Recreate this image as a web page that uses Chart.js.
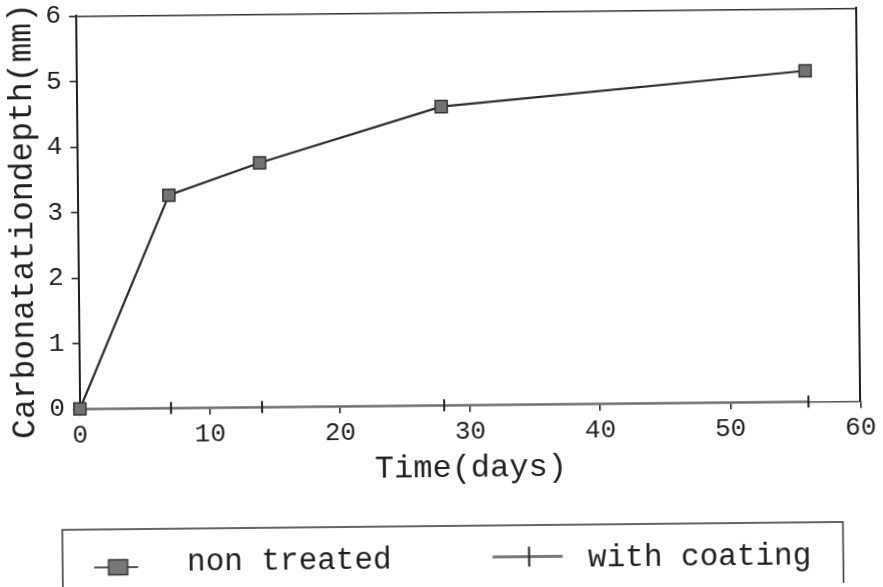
<!DOCTYPE html>
<html><head><meta charset="utf-8">
<script src="https://cdn.jsdelivr.net/npm/chart.js@4.4.1/dist/chart.umd.min.js"></script>
<style>
html,body{margin:0;padding:0;background:#fff;overflow:hidden;width:883px;height:587px}
#c{display:block;transform:rotate(-0.58deg);transform-origin:50% 50%}
</style></head><body>
<canvas id="c" width="883" height="587"></canvas>
<script>
// ---- data ----
const days = [0, 7, 14, 28, 56];
const nonTreated = [0, 3.25, 3.73, 4.56, 5.05];
const withCoating = [0, 0, 0, 0, 0];
const seriesNames = ['non treated', 'with coating'];
const xTickValues = [0, 10, 20, 30, 40, 50, 60];
const yTickValues = [0, 1, 2, 3, 4, 5, 6];
const xTitle = 'Time(days)';
const yTitle = 'Carbonatationdepth(mm)';

// ---- style ----
const FONT = "'Liberation Mono', 'DejaVu Sans Mono', monospace";
const INK = '#1e1e1e';

function legendMark(kind, dx, dy) {
  const w = 200, h = 50;
  const c = document.createElement('canvas');
  c.width = w; c.height = h;
  const g = c.getContext('2d');
  const cx = w / 2 + dx, cy = h / 2 + dy;
  if (kind === 'square') {
    g.strokeStyle = '#555'; g.lineWidth = 2;
    g.beginPath(); g.moveTo(cx - 24, cy); g.lineTo(cx + 20, cy); g.stroke();
    g.fillStyle = '#787878'; g.fillRect(cx - 9.5, cy - 7.5, 19, 15);
    g.strokeStyle = '#333'; g.lineWidth = 1.5; g.strokeRect(cx - 9.5, cy - 7.5, 19, 15);
  } else {
    g.strokeStyle = '#7a7a7a'; g.lineWidth = 3;
    g.beginPath(); g.moveTo(cx - 35, cy); g.lineTo(cx + 35, cy); g.stroke();
    g.strokeStyle = '#222'; g.lineWidth = 2;
    g.beginPath(); g.moveTo(cx + 1.5, cy - 10); g.lineTo(cx + 1.5, cy + 10); g.stroke();
  }
  return c;
}
const legendMarks = [legendMark('square', 22, 4), legendMark('cross', 30.5, -2.5)];

const legendFrame = {
  id: 'legendFrame',
  afterDraw(chart) {
    const lg = chart.legend;
    if (!lg || !lg.legendHitBoxes || !lg.legendHitBoxes.length) return;
    const hb = lg.legendHitBoxes;
    const a = hb[0], b = hb[hb.length - 1];
    const cy = a.top + a.height / 2;
    const left = a.left + 42, right = b.left + b.width + 32;
    const ctx = chart.ctx;
    ctx.save();
    ctx.strokeStyle = '#333';
    ctx.lineWidth = 1.5;
    ctx.strokeRect(left, cy - 34, right - left, 62);
    ctx.restore();
  }
};

// y-axis title, placed slightly below the axis centre as in the original figure
const yTitlePlugin = {
  id: 'yTitlePlugin',
  afterDraw(chart) {
    const s = chart.scales.y;
    const t = s.options.title;
    const ctx = chart.ctx;
    ctx.save();
    ctx.translate(24, (s.top + s.bottom) / 2 + 8);
    ctx.rotate(-Math.PI / 2);
    ctx.font = `${t.font.size}px ${FONT}`;
    ctx.fillStyle = INK;
    ctx.textAlign = 'center';
    ctx.textBaseline = 'middle';
    ctx.fillText(t.text, 0, 0);
    ctx.restore();
  }
};

const gridOpts = { drawOnChartArea: false, drawTicks: true, tickLength: 7, color: INK, lineWidth: 1.5 };

new Chart(document.getElementById('c'), {
  type: 'line',
  data: {
    datasets: [
      {
        label: seriesNames[0],
        data: days.map((d, i) => ({ x: d, y: nonTreated[i] })),
        borderColor: '#2a2a2a', borderWidth: 2.2, tension: 0,
        pointStyle: 'rect', pointRadius: 8.5,
        pointBackgroundColor: '#737373', pointBorderColor: '#333', pointBorderWidth: 1.5,
        clip: false
      },
      {
        label: seriesNames[1],
        data: days.map((d, i) => ({ x: d, y: withCoating[i] })),
        borderColor: '#6a6a6a', borderWidth: 2, tension: 0,
        pointStyle: 'line', pointRotation: 90, pointRadius: 6,
        pointBorderColor: '#222', pointBorderWidth: 2,
        clip: false
      }
    ]
  },
  options: {
    responsive: false,
    animation: false,
    devicePixelRatio: 1,
    layout: { padding: { left: -12.1, right: 19.1, top: 12.3, bottom: 1.5 } },
    scales: {
      x: {
        type: 'linear', position: 'bottom', min: 0, max: 60,
        afterBuildTicks: s => { s.ticks = xTickValues.map(v => ({ value: v })); },
        afterFit: s => { s.height = 109.2; },
        grid: gridOpts,
        border: { display: true, color: '#555', width: 1.5 },
        ticks: { font: { family: FONT, size: 26, lineHeight: 0.9 }, color: INK, padding: 8, maxRotation: 0, autoSkip: false },
        title: { display: true, text: xTitle, font: { family: FONT, size: 32 }, color: INK, padding: { top: 0, bottom: 27 } }
      },
      y: {
        type: 'linear', position: 'left', min: 0, max: 6,
        afterBuildTicks: s => { s.ticks = yTickValues.map(v => ({ value: v })); },
        afterFit: s => { s.width = 90.9; s.paddingTop = 0; s.paddingBottom = 0; },
        grid: gridOpts,
        border: { display: true, color: INK, width: 2 },
        ticks: { font: { family: FONT, size: 26, lineHeight: 0.9 }, color: INK, padding: 8, autoSkip: false },
        title: { display: false, text: yTitle, font: { family: FONT, size: 33 }, color: INK }
      },
      x2: {
        type: 'linear', position: 'top', min: 0, max: 60,
        ticks: { display: false }, grid: { display: false, drawTicks: false, tickLength: 0 },
        afterFit: s => { s.height = 0; },
        border: { display: true, color: '#333', width: 1.5 }
      },
      y2: {
        type: 'linear', position: 'right', min: 0, max: 6,
        ticks: { display: false }, grid: { display: false, drawTicks: false, tickLength: 0 },
        afterFit: s => { s.width = 0; },
        border: { display: true, color: INK, width: 2 }
      }
    },
    plugins: {
      tooltip: { enabled: false },
      legend: {
        position: 'bottom', align: 'start',
        labels: {
          usePointStyle: true, pointStyleWidth: 150.9, padding: 30,
          color: INK, font: { family: FONT, size: 31 },
          generateLabels: chart => chart.data.datasets.map((ds, i) => ({
            text: ds.label, pointStyle: legendMarks[i], datasetIndex: i, hidden: false,
            fontColor: INK, lineWidth: 0, strokeStyle: 'rgba(0,0,0,0)', fillStyle: 'rgba(0,0,0,0)'
          }))
        }
      }
    }
  },
  plugins: [legendFrame, yTitlePlugin]
});
</script>
</body></html>
